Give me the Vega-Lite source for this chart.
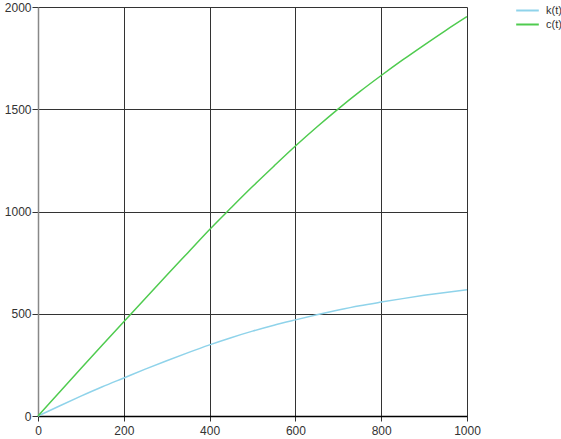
{
  "$schema": "https://vega.github.io/schema/vega-lite/v6.json",
  "autosize": {"type": "none"},
  "padding": {"left": 38, "top": 7, "right": 94, "bottom": 23},
  "width": 429,
  "height": 409,
  "background": "white",
  "config": {
    "view": {"stroke": null},
    "font": "Liberation Sans"
  },
  "data": {
    "values": [
      {"t": 0, "v": 0, "s": "k(t)"}, {"t": 50, "v": 49, "s": "k(t)"}, {"t": 100, "v": 97, "s": "k(t)"},
      {"t": 150, "v": 143, "s": "k(t)"}, {"t": 200, "v": 186, "s": "k(t)"}, {"t": 250, "v": 229, "s": "k(t)"},
      {"t": 300, "v": 270, "s": "k(t)"}, {"t": 350, "v": 310, "s": "k(t)"}, {"t": 400, "v": 348, "s": "k(t)"},
      {"t": 450, "v": 383, "s": "k(t)"}, {"t": 500, "v": 415, "s": "k(t)"}, {"t": 550, "v": 444, "s": "k(t)"},
      {"t": 600, "v": 470, "s": "k(t)"}, {"t": 650, "v": 495, "s": "k(t)"}, {"t": 700, "v": 518, "s": "k(t)"},
      {"t": 750, "v": 539, "s": "k(t)"}, {"t": 800, "v": 557, "s": "k(t)"}, {"t": 850, "v": 574, "s": "k(t)"},
      {"t": 900, "v": 590, "s": "k(t)"}, {"t": 950, "v": 604, "s": "k(t)"}, {"t": 1000, "v": 617, "s": "k(t)"},
      {"t": 0, "v": 0, "s": "c(t)"}, {"t": 50, "v": 116, "s": "c(t)"}, {"t": 100, "v": 232, "s": "c(t)"},
      {"t": 150, "v": 347, "s": "c(t)"}, {"t": 200, "v": 461, "s": "c(t)"}, {"t": 250, "v": 575, "s": "c(t)"},
      {"t": 300, "v": 688, "s": "c(t)"}, {"t": 350, "v": 800, "s": "c(t)"}, {"t": 400, "v": 912, "s": "c(t)"},
      {"t": 450, "v": 1018, "s": "c(t)"}, {"t": 500, "v": 1122, "s": "c(t)"}, {"t": 550, "v": 1222, "s": "c(t)"},
      {"t": 600, "v": 1320, "s": "c(t)"}, {"t": 650, "v": 1413, "s": "c(t)"}, {"t": 700, "v": 1502, "s": "c(t)"},
      {"t": 750, "v": 1586, "s": "c(t)"}, {"t": 800, "v": 1665, "s": "c(t)"}, {"t": 850, "v": 1741, "s": "c(t)"},
      {"t": 900, "v": 1814, "s": "c(t)"}, {"t": 950, "v": 1885, "s": "c(t)"}, {"t": 1000, "v": 1953, "s": "c(t)"}
    ]
  },
  "mark": {"type": "line", "strokeWidth": 1.5, "interpolate": "monotone"},
  "encoding": {
    "x": {
      "field": "t", "type": "quantitative",
      "scale": {"domain": [0, 1000], "nice": false, "zero": true},
      "axis": {
        "title": null, "values": [0, 200, 400, 600, 800, 1000], "format": "d",
        "grid": true, "gridColor": "#333333", "gridOpacity": 1, "gridWidth": 1,
        "domainColor": "#000000", "domainWidth": 1.5,
        "tickColor": "#333333", "tickSize": 5,
        "labelFont": "Liberation Sans", "labelFontSize": 12, "labelColor": "#333333",
        "labelPadding": 4, "labelFlush": false
      }
    },
    "y": {
      "field": "v", "type": "quantitative",
      "scale": {"domain": [0, 2000], "nice": false},
      "axis": {
        "title": null, "values": [0, 500, 1000, 1500, 2000], "format": "d",
        "grid": true, "gridColor": "#333333", "gridOpacity": 1, "gridWidth": 1,
        "domainColor": "#888888", "domainWidth": 1.5,
        "tickColor": "#333333", "tickSize": 6,
        "labelFont": "Liberation Sans", "labelFontSize": 12, "labelColor": "#333333",
        "labelPadding": 1, "labelFlush": false
      }
    },
    "color": {
      "field": "s", "type": "nominal",
      "scale": {"domain": ["k(t)", "c(t)"], "range": ["#8fd3ea", "#4fcb4f"]},
      "legend": {
        "title": null, "orient": "none", "legendX": 481, "legendY": -5,
        "symbolType": "M-1.6,0H1.6", "symbolSize": 200, "symbolStrokeWidth": 2,
        "labelFont": "Liberation Sans", "labelFontSize": 11, "labelColor": "#333333",
        "rowPadding": 0, "labelOffset": 10
      }
    }
  }
}
